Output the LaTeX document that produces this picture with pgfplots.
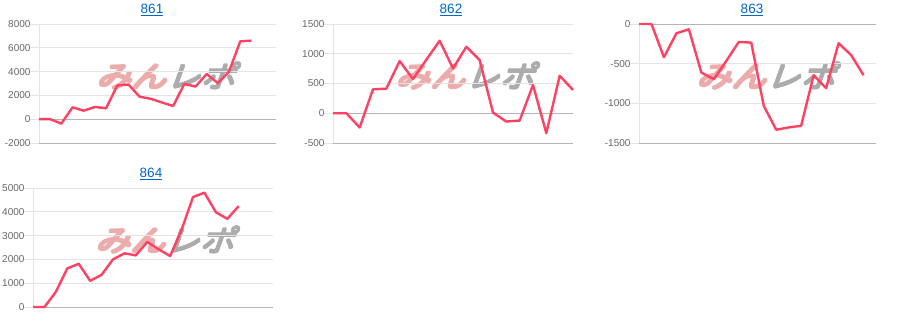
\documentclass[border=0pt]{standalone}
\usepackage{fontspec}
\setmainfont{Liberation Sans}
\newfontfamily\wmfont[FakeSlant=0.3]{Noto Sans CJK JP}
\usepackage{pgfplots}
\pgfplotsset{compat=1.18}
\definecolor{linec}{RGB}{255,66,98}
\definecolor{gridc}{RGB}{228,228,228}
\definecolor{zeroc}{RGB}{180,180,180}
\definecolor{tickc}{RGB}{102,102,102}
\definecolor{titlec}{RGB}{0,102,204}
\definecolor{wmpink}{RGB}{236,172,172}
\definecolor{wmgray}{RGB}{172,172,172}
\pgfplotsset{
  panel/.style={
    scale only axis, height=119pt,
    xmin=0,
    axis x line=none,
    axis y line*=left,
    y axis line style={draw=gridc, line width=0.8pt, -},
    ymajorgrids, grid style={gridc, line width=0.8pt},
    major tick length=9pt, tick align=outside,
    ytick style={gridc, line width=0.8pt},
    yticklabel style={font=\fontsize{10}{12}\selectfont, text=tickc, xshift=4pt},
    /pgf/number format/assume math mode=true,
    /pgf/number format/1000 sep={},
    extra y tick labels={},
    extra y tick style={grid style={zeroc, line width=0.8pt}, tick style={zeroc}},
    clip=false,
  },
  dataline/.style={linec, line width=2.4pt, line join=round, no markers},
}
\newcommand{\wmtext}{\wmfont\fontsize{29}{29}\selectfont\textcolor{wmpink}{みん}\textcolor{wmgray}{レポ}}
\newcommand{\wm}[2]{%
  \foreach \dx in {-0.8,0,0.8}{\foreach \dy in {-0.8,0,0.8}{%
    \node[xscale=1.2, inner sep=0pt] at ({#1+\dx},{#2+\dy}) {\wmtext};}}}
\newcommand{\ptitle}[3]{\node[text=titlec, font=\fontsize{13.5}{14}\selectfont] at (#1,#2) {\underline{#3}};}
\begin{document}
\begin{tikzpicture}[x=1pt,y=1pt]
\path[use as bounding box] (0,0) rectangle (900,-328);
\wm{166}{-76}
\wm{465}{-76}
\wm{766}{-76}
\wm{165}{-240}
\ptitle{152}{-10}{861}
\ptitle{451}{-10}{862}
\ptitle{752}{-10}{863}
\ptitle{151}{-174}{864}

% 861
\begin{axis}[panel, at={(39pt,-143pt)}, anchor=south west, width=237pt,
  xmax=21.2, ymin=-2000, ymax=8000, ytick={-2000,0,2000,4000,6000,8000},
  extra y ticks={-2000,0}]
\addplot[dataline] coordinates {
(0,0) (1,0) (2,-370) (3,1000) (4,714) (5,1030) (6,914) (7,2830) (8,2910) (9,1890)
(10,1710) (11,1400) (12,1110) (13,2970) (14,2740) (15,3800) (16,3030) (17,4000) (18,6540) (19,6600)};
\end{axis}

% 862
\begin{axis}[panel, at={(333pt,-143pt)}, anchor=south west, width=240pt,
  xmax=18, ymin=-500, ymax=1500, ytick={-500,0,500,1000,1500},
  extra y ticks={-500,0}]
\addplot[dataline] coordinates {
(0,0) (1,0) (2,-240) (3,402) (4,413) (5,877) (6,575) (7,900) (8,1218) (9,754)
(10,1117) (11,894) (12,11) (13,-140) (14,-123) (15,475) (16,-335) (17,631) (18,391)};
\end{axis}

% 863
\begin{axis}[panel, at={(639pt,-143pt)}, anchor=south west, width=237pt,
  xmax=19, ymin=-1500, ymax=0, ytick={-1500,-1000,-500,0},
  extra y ticks={-1500,0}]
\addplot[dataline] coordinates {
(0,0) (1,0) (2,-419) (3,-117) (4,-67) (5,-612) (6,-696) (7,-465) (8,-226) (9,-235)
(10,-1031) (11,-1333) (12,-1304) (13,-1283) (14,-645) (15,-809) (16,-243) (17,-390) (18,-645)};
\end{axis}

% 864
\begin{axis}[panel, at={(33pt,-307pt)}, anchor=south west, width=240pt,
  xmax=21, ymin=0, ymax=5000, ytick={0,1000,2000,3000,4000,5000},
  extra y ticks={0}]
\addplot[dataline] coordinates {
(0,0) (1,0) (2,634) (3,1620) (4,1817) (5,1099) (6,1352) (7,2000) (8,2254) (9,2169)
(10,2732) (11,2423) (12,2141) (13,3239) (14,4620) (15,4803) (16,3986) (17,3704) (18,4239)};
\end{axis}
\end{tikzpicture}
\end{document}
